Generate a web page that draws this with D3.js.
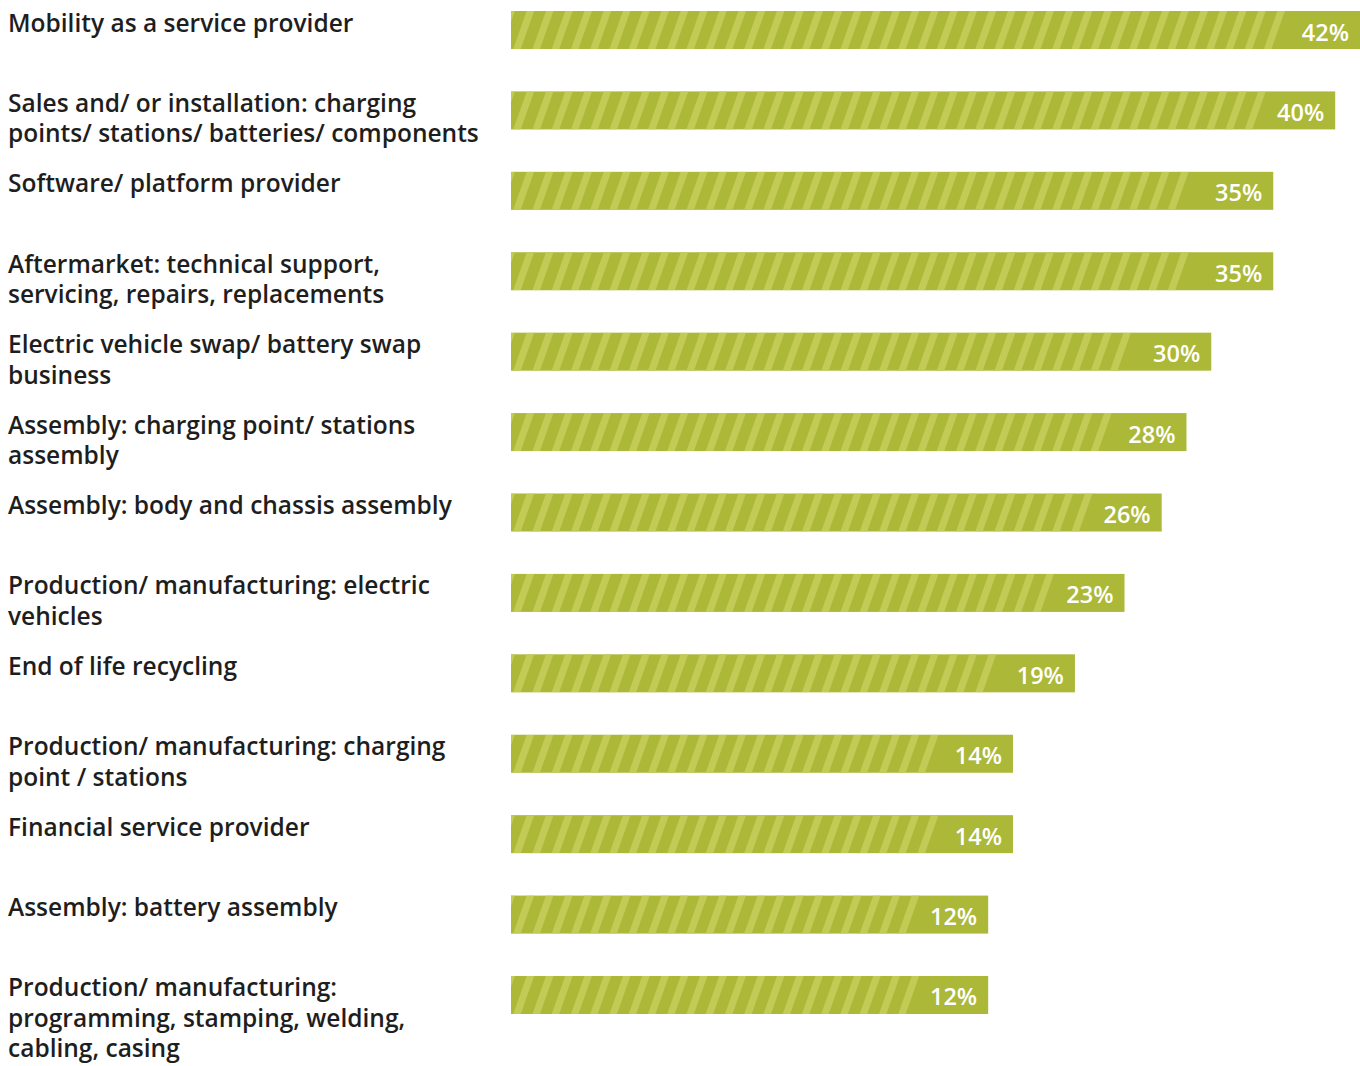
<!DOCTYPE html>
<html>
<head>
<meta charset="utf-8">
<script src="https://cdn.jsdelivr.net/npm/d3@7"></script>
<style>
  html, body { margin: 0; padding: 0; background: #ffffff; }
  svg { display: block; }
</style>
</head>
<body>
<svg id="chart" width="1360" height="1066"></svg>
<script>
// Business segments (each entry is the wrapped lines of its label)
const categories = [
  ["Mobility as a service provider"],
  ["Sales and/ or installation: charging", "points/ stations/ batteries/ components"],
  ["Software/ platform provider"],
  ["Aftermarket: technical support,", "servicing, repairs, replacements"],
  ["Electric vehicle swap/ battery swap", "business"],
  ["Assembly: charging point/ stations", "assembly"],
  ["Assembly: body and chassis assembly"],
  ["Production/ manufacturing: electric", "vehicles"],
  ["End of life recycling"],
  ["Production/ manufacturing: charging", "point / stations"],
  ["Financial service provider"],
  ["Assembly: battery assembly"],
  ["Production/ manufacturing:", "programming, stamping, welding,", "cabling, casing"]
];

// Share of respondents, percent
const values = [42, 40, 35, 35, 30, 28, 26, 23, 19, 14, 14, 12, 12];

const svg = d3.select("#chart");

const x = d3.scaleLinear().domain([-26.5, 42]).range([511, 1360]);
const x0 = x(x.domain()[0]);

const ids = categories.map((c, i) => "row" + i);
const y = d3.scaleBand()
  .domain(ids)
  .range([11, 1014])
  .paddingInner(0.5274)
  .paddingOuter(0);

const fontStack = "'Open Sans', 'Noto Sans', sans-serif";
const barColor = "#acb838";
const stripeColor = "#c1cb56";
const stripePeriod = 19.25;
const stripeWidth = 7.5;
const stripeSlant = 13.5;   // horizontal shift from bottom to top of a bar
const stripePhase = 15.7;   // first stripe's top-left offset from the bar start
const stripeStop = 68;      // plain area kept behind the value label

const defs = svg.append("defs");

const rowData = values.map((v, i) => ({ v, lines: categories[i], id: ids[i] }));

const rows = svg.selectAll("g.row")
  .data(rowData)
  .join("g")
  .attr("class", "row");

// category labels
rows.append("text")
  .attr("x", 8)
  .attr("y", d => y(d.id) + 20.5)
  .attr("font-family", fontStack)
  .attr("font-weight", 600)
  .attr("font-size", 24.5)
  .attr("fill", "#1e1e1e")
  .selectAll("tspan")
  .data(d => d.lines)
  .join("tspan")
  .attr("x", 8)
  .attr("dy", (l, j) => j === 0 ? 0 : 30.5)
  .text(l => l);

// clip paths so stripes stay inside each bar
defs.selectAll("clipPath")
  .data(rowData)
  .join("clipPath")
  .attr("id", d => "clip-" + d.id)
  .append("rect")
  .attr("x", x0)
  .attr("y", d => y(d.id))
  .attr("width", d => x(d.v) - x0)
  .attr("height", y.bandwidth());

// bars
rows.append("rect")
  .attr("x", x0)
  .attr("y", d => y(d.id))
  .attr("width", d => x(d.v) - x0)
  .attr("height", y.bandwidth())
  .attr("fill", barColor);

// diagonal stripes
rows.append("g")
  .attr("clip-path", d => `url(#clip-${d.id})`)
  .each(function (d) {
    const x1 = x(d.v);
    const top = y(d.id);
    const bot = top + y.bandwidth();
    const starts = [];
    for (let sx = x0 + stripePhase - stripePeriod; sx + stripeWidth <= x1 - stripeStop; sx += stripePeriod) {
      starts.push(sx);
    }
    d3.select(this).selectAll("polygon")
      .data(starts)
      .join("polygon")
      .attr("points", sx => [
        [sx, top], [sx + stripeWidth, top],
        [sx + stripeWidth - stripeSlant, bot], [sx - stripeSlant, bot]
      ].map(p => p.join(",")).join(" "))
      .attr("fill", stripeColor);
  });

// value labels
rows.append("text")
  .attr("x", d => x(d.v) - 11)
  .attr("y", d => y(d.id) + 29.5)
  .attr("text-anchor", "end")
  .attr("font-family", fontStack)
  .attr("font-weight", 600)
  .attr("font-size", 23.5)
  .attr("fill", "#ffffff")
  .text(d => d.v + "%");
</script>
</body>
</html>
